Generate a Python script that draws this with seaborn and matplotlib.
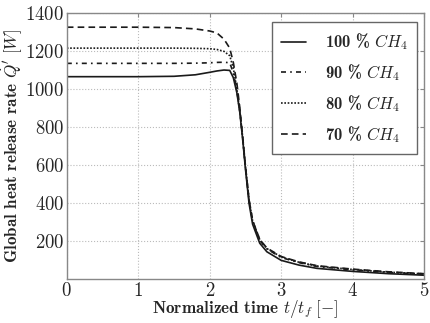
import pandas as pd
import matplotlib
matplotlib.use("Agg")
import matplotlib.pyplot as plt
import seaborn as sns

sns.set_style("whitegrid")
plt.rcParams['font.family'] = ['cmr10', 'DejaVu Serif']
plt.rcParams['mathtext.fontset'] = 'cm'
plt.rcParams['axes.formatter.use_mathtext'] = True

# normalized time t/t_f
time = [0.0, 0.5, 1.0, 1.5, 1.8, 2.0, 2.1, 2.2, 2.28, 2.33, 2.38, 2.42, 2.46,
        2.5, 2.55, 2.6, 2.7, 2.8, 3.0, 3.25, 3.5, 4.0, 4.5, 5.0]
# global heat release rate [W]
q100 = [1065, 1065, 1065, 1067, 1075, 1088, 1095, 1100, 1098, 1060, 980, 880, 740,
        580, 400, 290, 190, 145, 100, 75, 58, 42, 30, 22]
q90 = [1135, 1135, 1135, 1135, 1136, 1138, 1140, 1141, 1138, 1085, 990, 885, 745,
       590, 415, 305, 205, 160, 115, 88, 68, 50, 37, 28]
q80 = [1215, 1215, 1215, 1215, 1214, 1212, 1208, 1198, 1175, 1110, 1000, 890, 750,
       592, 418, 308, 208, 162, 118, 90, 70, 52, 38, 29]
q70 = [1325, 1325, 1325, 1323, 1316, 1305, 1295, 1262, 1215, 1140, 1030, 905, 755,
       595, 420, 310, 210, 165, 120, 92, 72, 54, 40, 30]

labels = [r"100 % $CH_4$", r"90 % $CH_4$", r"80 % $CH_4$", r"70 % $CH_4$"]
styles = ['-', (0, (3, 2.5, 1, 2.5)), (0, (1, 1)), (0, (4, 2.5))]
series = [q100, q90, q80, q70]

fig, ax = plt.subplots(figsize=(4.31, 3.23), dpi=100)
fig.subplots_adjust(left=0.155, right=0.984, bottom=0.135, top=0.96)

for values, lab, ls in zip(series, labels, styles):
    df = pd.DataFrame({"t": time, "q": values})
    sns.lineplot(data=df, x="t", y="q", ax=ax, color="#1a1a1a",
                 linewidth=1.2, linestyle=ls, label=lab)

ax.set_xlim(0, 5)
ax.set_ylim(0, 1400)
ax.set_yticks([200, 400, 600, 800, 1000, 1200, 1400])
ax.set_xticks([0, 1, 2, 3, 4, 5])
ax.tick_params(labelsize=13.5, direction='in', top=True, right=True,
               length=3, color='#888888', pad=2)
ax.grid(True, linestyle=':', color='#bbbbbb', linewidth=0.8)
for sp in ax.spines.values():
    sp.set_color('#888888')
    sp.set_linewidth(1.0)

ax.set_xlabel(r"Normalized time $t/t_f\ [-]$", fontfamily='cmb10', fontsize=12.3,
              labelpad=-1)
ax.set_ylabel(r"Global heat release rate $\dot{Q}'\ [W]$", fontfamily='cmb10',
              fontsize=12.3, labelpad=1)

leg = ax.legend(loc='upper right', prop={'family': 'cmb10', 'size': 12},
                frameon=True, fancybox=False, handlelength=1.5, handletextpad=1.1,
                borderpad=0.55, labelspacing=0.6, borderaxespad=0,
                bbox_to_anchor=(0.98, 0.965))
leg.get_frame().set_edgecolor('#666666')
leg.get_frame().set_linewidth(1.0)
leg.get_frame().set_alpha(1)

fig.savefig("out.png", dpi=100)
plt.close(fig)
